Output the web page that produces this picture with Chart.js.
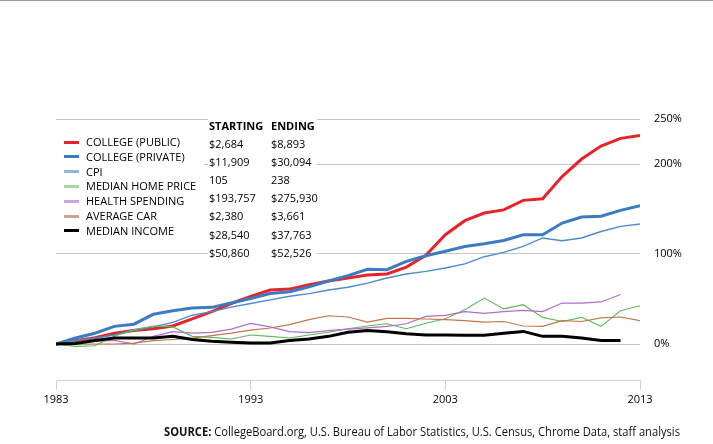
<!DOCTYPE html>
<html><head><meta charset="utf-8">
<script src="https://cdn.jsdelivr.net/npm/chart.js@4.4.1/dist/chart.umd.min.js"></script>
<style>
html,body{margin:0;padding:0;background:#fff;}
#wrap{position:relative;width:713px;height:444px;overflow:hidden;font-family:"Open Sans",sans-serif;color:#000;}
#c{position:absolute;left:0;top:0;}
.box{position:absolute;background:#fff;}
.row{position:absolute;white-space:nowrap;font-size:11px;line-height:14px;}
.sw{position:absolute;width:15px;height:3px;}
#topline{position:absolute;left:0;top:0;width:713px;height:1px;background:#9a9a9a;}
#source{position:absolute;left:164px;top:422px;font-size:13px;line-height:18px;white-space:nowrap;color:#111;transform-origin:0 50%;}
</style></head>
<body>
<div id="wrap">
<canvas id="c" width="713" height="444"></canvas>
<div id="topline"></div>
<div id="legbox" class="box" style="left:56px;top:128px;width:148px;height:117px;"></div>
<div id="tblbox" class="box" style="left:208px;top:114px;width:109px;height:145px;"></div>
<div id="source"><b>SOURCE:</b> CollegeBoard.org, U.S. Bureau of Labor Statistics, U.S. Census, Chrome Data, staff analysis</div>
</div>
<script>
const YEARS = [1983,1984,1985,1986,1987,1988,1989,1990,1991,1992,1993,1994,1995,1996,1997,1998,1999,2000,2001,2002,2003,2004,2005,2006,2007,2008,2009,2010,2011,2012,2013];
const COLLEGE_PUBLIC  = [0,3.7,7,12,15,17,20,28,36,45,53,60,61,66,70,73.3,76.7,77.8,85.5,98.5,121.4,137,145.5,149,159.6,161.4,186,205.5,220,228.5,231.8];
const COLLEGE_PRIVATE = [0,6.6,12,19.6,22,33,37,40,40.7,45.5,50.5,56,58,63.5,70,76,83,82.5,91.8,98,103,108.4,111.4,115,121.4,121.4,134.4,141,142,148.5,153.7];
const CPI             = [0,3.7,6.6,10,15,19,24,32,36,41,45,49,53,56,60,63,67.7,73.3,77.8,80.7,84.4,89,97,101.8,108.4,117.8,114.8,117.8,125,130.7,133.3];
const HOME_PRICE      = [0,-2.6,-2,8.5,16,20,19,8.5,7.4,5.5,10,8.5,6.6,10,13,17,20,22.5,17,23,28,38,51,39,43.7,29.6,25,29.6,19.6,37,42.5];
const HEALTH          = [0,1,3,4,0,8.5,13.7,12,13,16.6,23,19,13.7,12.7,14.8,16.6,18,19.6,22.5,30.7,31.8,36,34,36,37.4,36,45.5,45.5,46.7,55,null];
const AVERAGE_CAR     = [0,0,0,0,1,3.7,5,6.6,9.4,12,15.5,17.8,21.5,27,31.4,30,24.4,28.5,28.5,27.8,27,26,24.4,25,20,19.6,26,25,29,30,26];
const MEDIAN_INCOME   = [0,0.5,4,6.6,6.6,6.6,8.5,5,3,2,1,1,4,5.5,8.5,13,15,13.7,11.4,10,10,9.6,9.6,12,14,8.5,8.5,6.6,4,4,null];

const SERIES_NAMES = ["COLLEGE (PUBLIC)","COLLEGE (PRIVATE)","CPI","MEDIAN HOME PRICE","HEALTH SPENDING","AVERAGE CAR","MEDIAN INCOME"];
const STARTING = ["$2,684","$11,909","105","$193,757","$2,380","$28,540","$50,860"];
const ENDING   = ["$8,893","$30,094","238","$275,930","$3,661","$37,763","$52,526"];
const X_TICKS = [1983,1993,2003,2013];
const Y_TICKS = [0,100,200,250];

const VALUES = [COLLEGE_PUBLIC,COLLEGE_PRIVATE,CPI,HOME_PRICE,HEALTH,AVERAGE_CAR,MEDIAN_INCOME];
const LINE_COLORS = ["#e8232a","#3b7cc0","#4b8ccf","#5dba55","#b06ccb","#c0784a","#000000"];
const SWATCH_COLORS = ["#e8232a","#3b7cc0","#93b9e0","#a6d89e","#cba6dd","#c9a48e","#000000"];
const LINE_WIDTHS = [3,3,1.4,1.1,1.2,1.2,3];

// legend
const wrap = document.getElementById('wrap');
SERIES_NAMES.forEach((n,i)=>{
  const cy = 142 + i*14.8;
  const sw = document.createElement('div'); sw.className='sw';
  sw.style.left='64px'; sw.style.top=(cy-1.5)+'px'; sw.style.background=SWATCH_COLORS[i];
  wrap.appendChild(sw);
  const t = document.createElement('div'); t.className='row';
  t.style.left='86px'; t.style.top=(cy-7)+'px'; t.textContent=n;
  wrap.appendChild(t);
});
function addText(txt,x,cy,bold){
  const t=document.createElement('div'); t.className='row';
  t.style.left=x+'px'; t.style.top=(cy-7)+'px'; t.textContent=txt;
  if(bold) t.style.fontWeight='700';
  wrap.appendChild(t);
}
addText("STARTING",209,125.7,true);
addText("ENDING",271,125.7,true);
STARTING.forEach((v,i)=>addText(v,209,144+i*18.1,false));
ENDING.forEach((v,i)=>addText(v,271,144+i*18.1,false));

// fit source line to its width in the reference
const src = document.getElementById('source');
const w = src.getBoundingClientRect().width;
src.style.transform = 'scaleX(' + (516 / w) + ')';

const ctx = document.getElementById('c').getContext('2d');
new Chart(ctx,{
  type:'line',
  data:{datasets: VALUES.map((vals,i)=>({
    label: SERIES_NAMES[i],
    data: YEARS.map((y,j)=>({x:y,y:vals[j]})),
    borderColor: LINE_COLORS[i], borderWidth: LINE_WIDTHS[i],
    pointRadius:0, tension:0, fill:false, spanGaps:false
  })).reverse()},
  options:{
    responsive:false, animation:false, devicePixelRatio:1,
    layout:{padding:{left:56,top:119,right:0,bottom:0}},
    plugins:{legend:{display:false},tooltip:{enabled:false}},
    scales:{
      x:{type:'linear',min:1983,max:2013,
        afterBuildTicks:s=>{s.ticks=X_TICKS.map(v=>({value:v}));},
        ticks:{callback:v=>String(v),color:'#000',font:{family:'Open Sans',size:11},padding:3,maxRotation:0,autoSkip:false},
        grid:{drawOnChartArea:false,drawTicks:true,tickLength:10,color:'#c9d3de'},
        border:{display:true,color:'#c9d3de'},
        afterFit:s=>{s.height=64;}
      },
      y:{position:'right',min:-40,max:250,
        afterBuildTicks:s=>{s.ticks=Y_TICKS.map(v=>({value:v}));},
        ticks:{callback:v=>v+'%',color:'#000',font:{family:'Open Sans',size:11},padding:14},
        grid:{color:'#c4c4c4',drawTicks:false},
        border:{display:false},
        afterFit:s=>{s.width=73;}
      }
    }
  }
});
</script>
</body></html>
